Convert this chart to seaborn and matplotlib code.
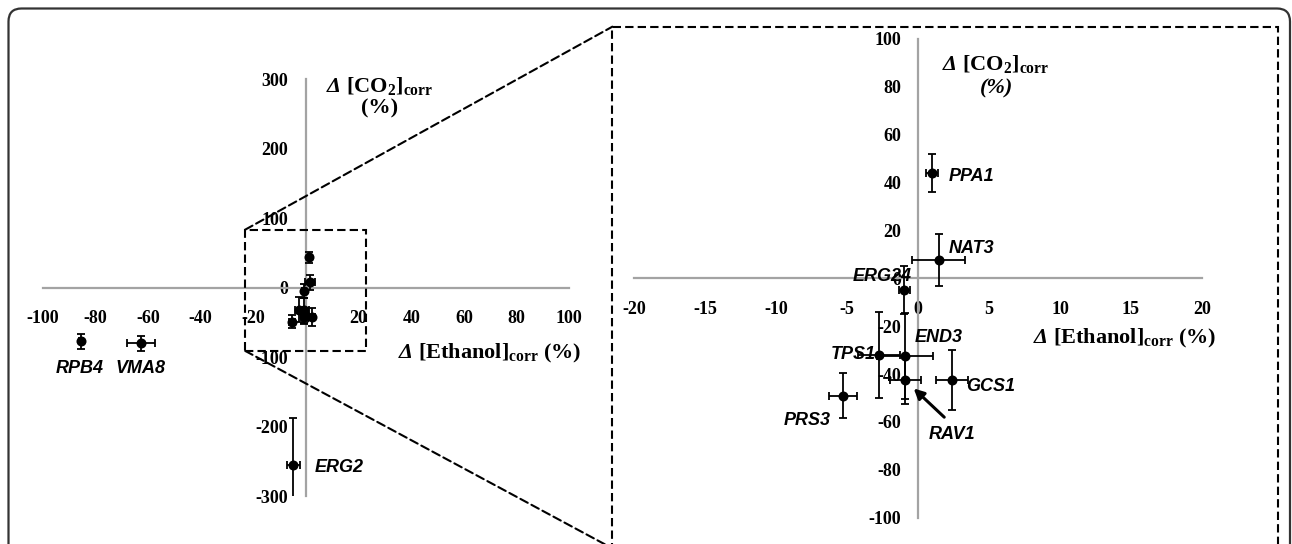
import numpy as np
import pandas as pd
import matplotlib
matplotlib.use("Agg")
import matplotlib.pyplot as plt
import seaborn as sns
from matplotlib.patches import Rectangle, FancyBboxPatch, ConnectionPatch

# ---- data -------------------------------------------------------
genes    = ["RPB4", "VMA8", "ERG2", "PPA1", "NAT3", "ERG24",
            "TPS1", "END3", "RAV1", "GCS1", "PRS3"]
ethanol  = [-85.4, -62.6, -4.9, 1.0, 1.45, -0.95, -2.75, -0.9, -0.9, 2.4, -5.3]
co2      = [-77.5, -80.0, -256.0, 44.0, 7.8, -4.9, -32.0, -32.5, -42.5, -42.5, -49.0]
eth_err  = [0.8, 5.2, 2.5, 0.4, 1.85, 0.4, 1.5, 1.95, 1.1, 1.1, 1.0]
co2_err  = [10.5, 11.0, 68.0, 8.0, 10.8, 10.0, 18.0, 18.0, 10.0, 12.7, 9.5]

left_xticks  = [-100, -80, -60, -40, -20, 0, 20, 40, 60, 80, 100]
left_yticks  = [-300, -200, -100, 0, 100, 200, 300]
right_xticks = [-20, -15, -10, -5, 0, 5, 10, 15, 20]
right_yticks = [-100, -80, -60, -40, -20, 0, 20, 40, 60, 80, 100]

df = pd.DataFrame({"gene": genes, "ethanol": ethanol, "co2": co2,
                   "eth_err": eth_err, "co2_err": co2_err})

sns.set_style("white")
plt.rcParams["font.family"] = ["Liberation Serif", "DejaVu Serif"]
plt.rcParams["text.color"] = "black"
plt.rcParams["mathtext.fontset"] = "custom"
plt.rcParams["mathtext.rm"] = "Liberation Serif:bold"
plt.rcParams["mathtext.it"] = "Liberation Serif:bold:italic"
plt.rcParams["mathtext.sf"] = "Liberation Serif:bold:italic"
plt.rcParams["mathtext.bf"] = "Liberation Serif:bold"

fig = plt.figure(figsize=(12.92, 5.44), dpi=100)
axL = fig.add_axes([0.0330, 0.0882, 0.4077, 0.7660])
axR = fig.add_axes([0.4907, 0.0483, 0.4396, 0.8801])

AXCOL = "#a3a3a3"


def style_axis(ax, xlim, ylim, xticks, yticks, xpad, ypad):
    ax.set_xlim(xlim); ax.set_ylim(ylim)
    for s in ["top", "right"]:
        ax.spines[s].set_visible(False)
    ax.spines["left"].set_position(("data", 0))
    ax.spines["bottom"].set_position(("data", 0))
    for s in ["left", "bottom"]:
        ax.spines[s].set_color(AXCOL)
        ax.spines[s].set_linewidth(1.6)
    ax.set_xticks(xticks); ax.set_yticks(yticks)
    ax.set_xticklabels([str(t) for t in xticks])
    ax.set_yticklabels([str(t) for t in yticks])
    ax.tick_params(axis="x", direction="out", length=4, width=1.4,
                   color=AXCOL, pad=xpad, labelsize=13, labelcolor="black")
    ax.tick_params(axis="y", direction="out", length=4, width=1.4,
                   color=AXCOL, pad=ypad, labelsize=13, labelcolor="black")
    for lab in ax.get_xticklabels() + ax.get_yticklabels():
        lab.set_fontweight("bold")
    ax.set_xlabel(""); ax.set_ylabel("")
    ax.patch.set_alpha(0)


def draw_points(ax, d):
    ax.errorbar(d["ethanol"], d["co2"], xerr=d["eth_err"], yerr=d["co2_err"],
                fmt="none", ecolor="black", elinewidth=1.3, capsize=3,
                capthick=1.3, zorder=4)
    sns.scatterplot(data=d, x="ethanol", y="co2", color="black", s=52,
                    edgecolor="black", linewidth=0, zorder=5, legend=False, ax=ax)


gene_font = dict(family=["Liberation Sans", "DejaVu Sans"], fontweight="bold",
                 fontstyle="italic", fontsize=13, color="black")
title_kw = dict(fontsize=16, ha="center", va="center", fontweight="bold")
DELTA = r"$\mathsf{\Delta}$"

# ---- left: full view ---------------------------------------------
draw_points(axL, df)
style_axis(axL, (-100, 100), (-300, 300), left_xticks, left_yticks, 12, 9)

left_off = {"RPB4": (-18.4, -22.8, "left"), "VMA8": (-18.5, -21.6, "left"),
            "ERG2": (15.4, -4.9, "left")}
for g, x, y in zip(df["gene"][:3], df["ethanol"][:3], df["co2"][:3]):
    dx, dy, ha = left_off[g]
    axL.annotate(g, (x, y), xytext=(dx, dy), textcoords="offset points",
                 ha=ha, **gene_font)

axL.text(0.64, 0.985, DELTA + r" [CO$_2$]$_{\mathrm{corr}}$",
         transform=axL.transAxes, **title_kw)
axL.text(0.64, 0.93, "(%)", transform=axL.transAxes, **title_kw)
axL.text(0.849, 0.341, DELTA + r" [Ethanol]$_{\mathrm{corr}}$ (%$\mathit{)}$",
         transform=axL.transAxes, **title_kw)

# ---- right: zoomed view ------------------------------------------
zoom = df.iloc[3:]
draw_points(axR, zoom)
style_axis(axR, (-20, 20), (-100, 100), right_xticks, right_yticks, 12, 8)

right_off = {"PPA1": (12, -5.8, "left"), "NAT3": (7.5, 5, "left"),
             "ERG24": (5, 6.5, "right"), "END3": (6.8, 10, "left"),
             "TPS1": (-2, -3, "right"), "GCS1": (10, -8, "left"),
             "PRS3": (-8.7, -21, "right"), "RAV1": (17, -42.5, "left")}
for g, x, y in zip(zoom["gene"], zoom["ethanol"], zoom["co2"]):
    dx, dy, ha = right_off[g]
    axR.annotate(g, (x, y), xytext=(dx, dy), textcoords="offset points",
                 ha=ha, zorder=6, **gene_font)
axR.annotate("", xy=(-0.3, -46.0), xytext=(1.85, -58.0),
             arrowprops=dict(arrowstyle="-|>,head_length=0.6,head_width=0.3",
                             color="black", lw=2.2, shrinkA=0, shrinkB=0),
             zorder=6)

axR.text(0.637, 0.9476, DELTA + r" [CO$_2$]$_{\mathrm{corr}}$",
         transform=axR.transAxes, **title_kw)
axR.text(0.639, 0.897, "(%)", transform=axR.transAxes, fontstyle="italic",
         **title_kw)
axR.text(0.8636, 0.3753, DELTA + r" [Ethanol]$_{\mathrm{corr}}$ $\mathit{(\%)}$",
         transform=axR.transAxes, **title_kw)

# ---- zoom box and connectors -------------------------------------
box = dict(x0=-23.1, x1=22.7, y0=-91, y1=83.5)
axL.add_patch(Rectangle((box["x0"], box["y0"]), box["x1"] - box["x0"],
                        box["y1"] - box["y0"], fill=False, ls=(0, (4, 2)),
                        lw=1.5, ec="black", clip_on=False, zorder=3))
big = Rectangle((0.474, -0.008), 0.5154, 0.959, transform=fig.transFigure,
                fill=False, ls=(0, (4, 2)), lw=1.5, ec="black")
fig.add_artist(big)
for yA, yB in [(box["y1"], 0.951), (box["y0"], -0.008)]:
    con = ConnectionPatch(xyA=(box["x0"], yA), coordsA=axL.transData,
                          xyB=(0.474, yB), coordsB=fig.transFigure,
                          ls=(0, (4, 2)), lw=1.5, color="black")
    fig.add_artist(con)

# ---- outer rounded frame -----------------------------------------
frame = FancyBboxPatch((0.085, -0.4), 12.815, 5.755,
                       boxstyle="round,pad=0,rounding_size=0.13",
                       transform=fig.dpi_scale_trans, fill=False,
                       ec="#333333", lw=1.6)
fig.add_artist(frame)

fig.savefig("out.png", dpi=100)
